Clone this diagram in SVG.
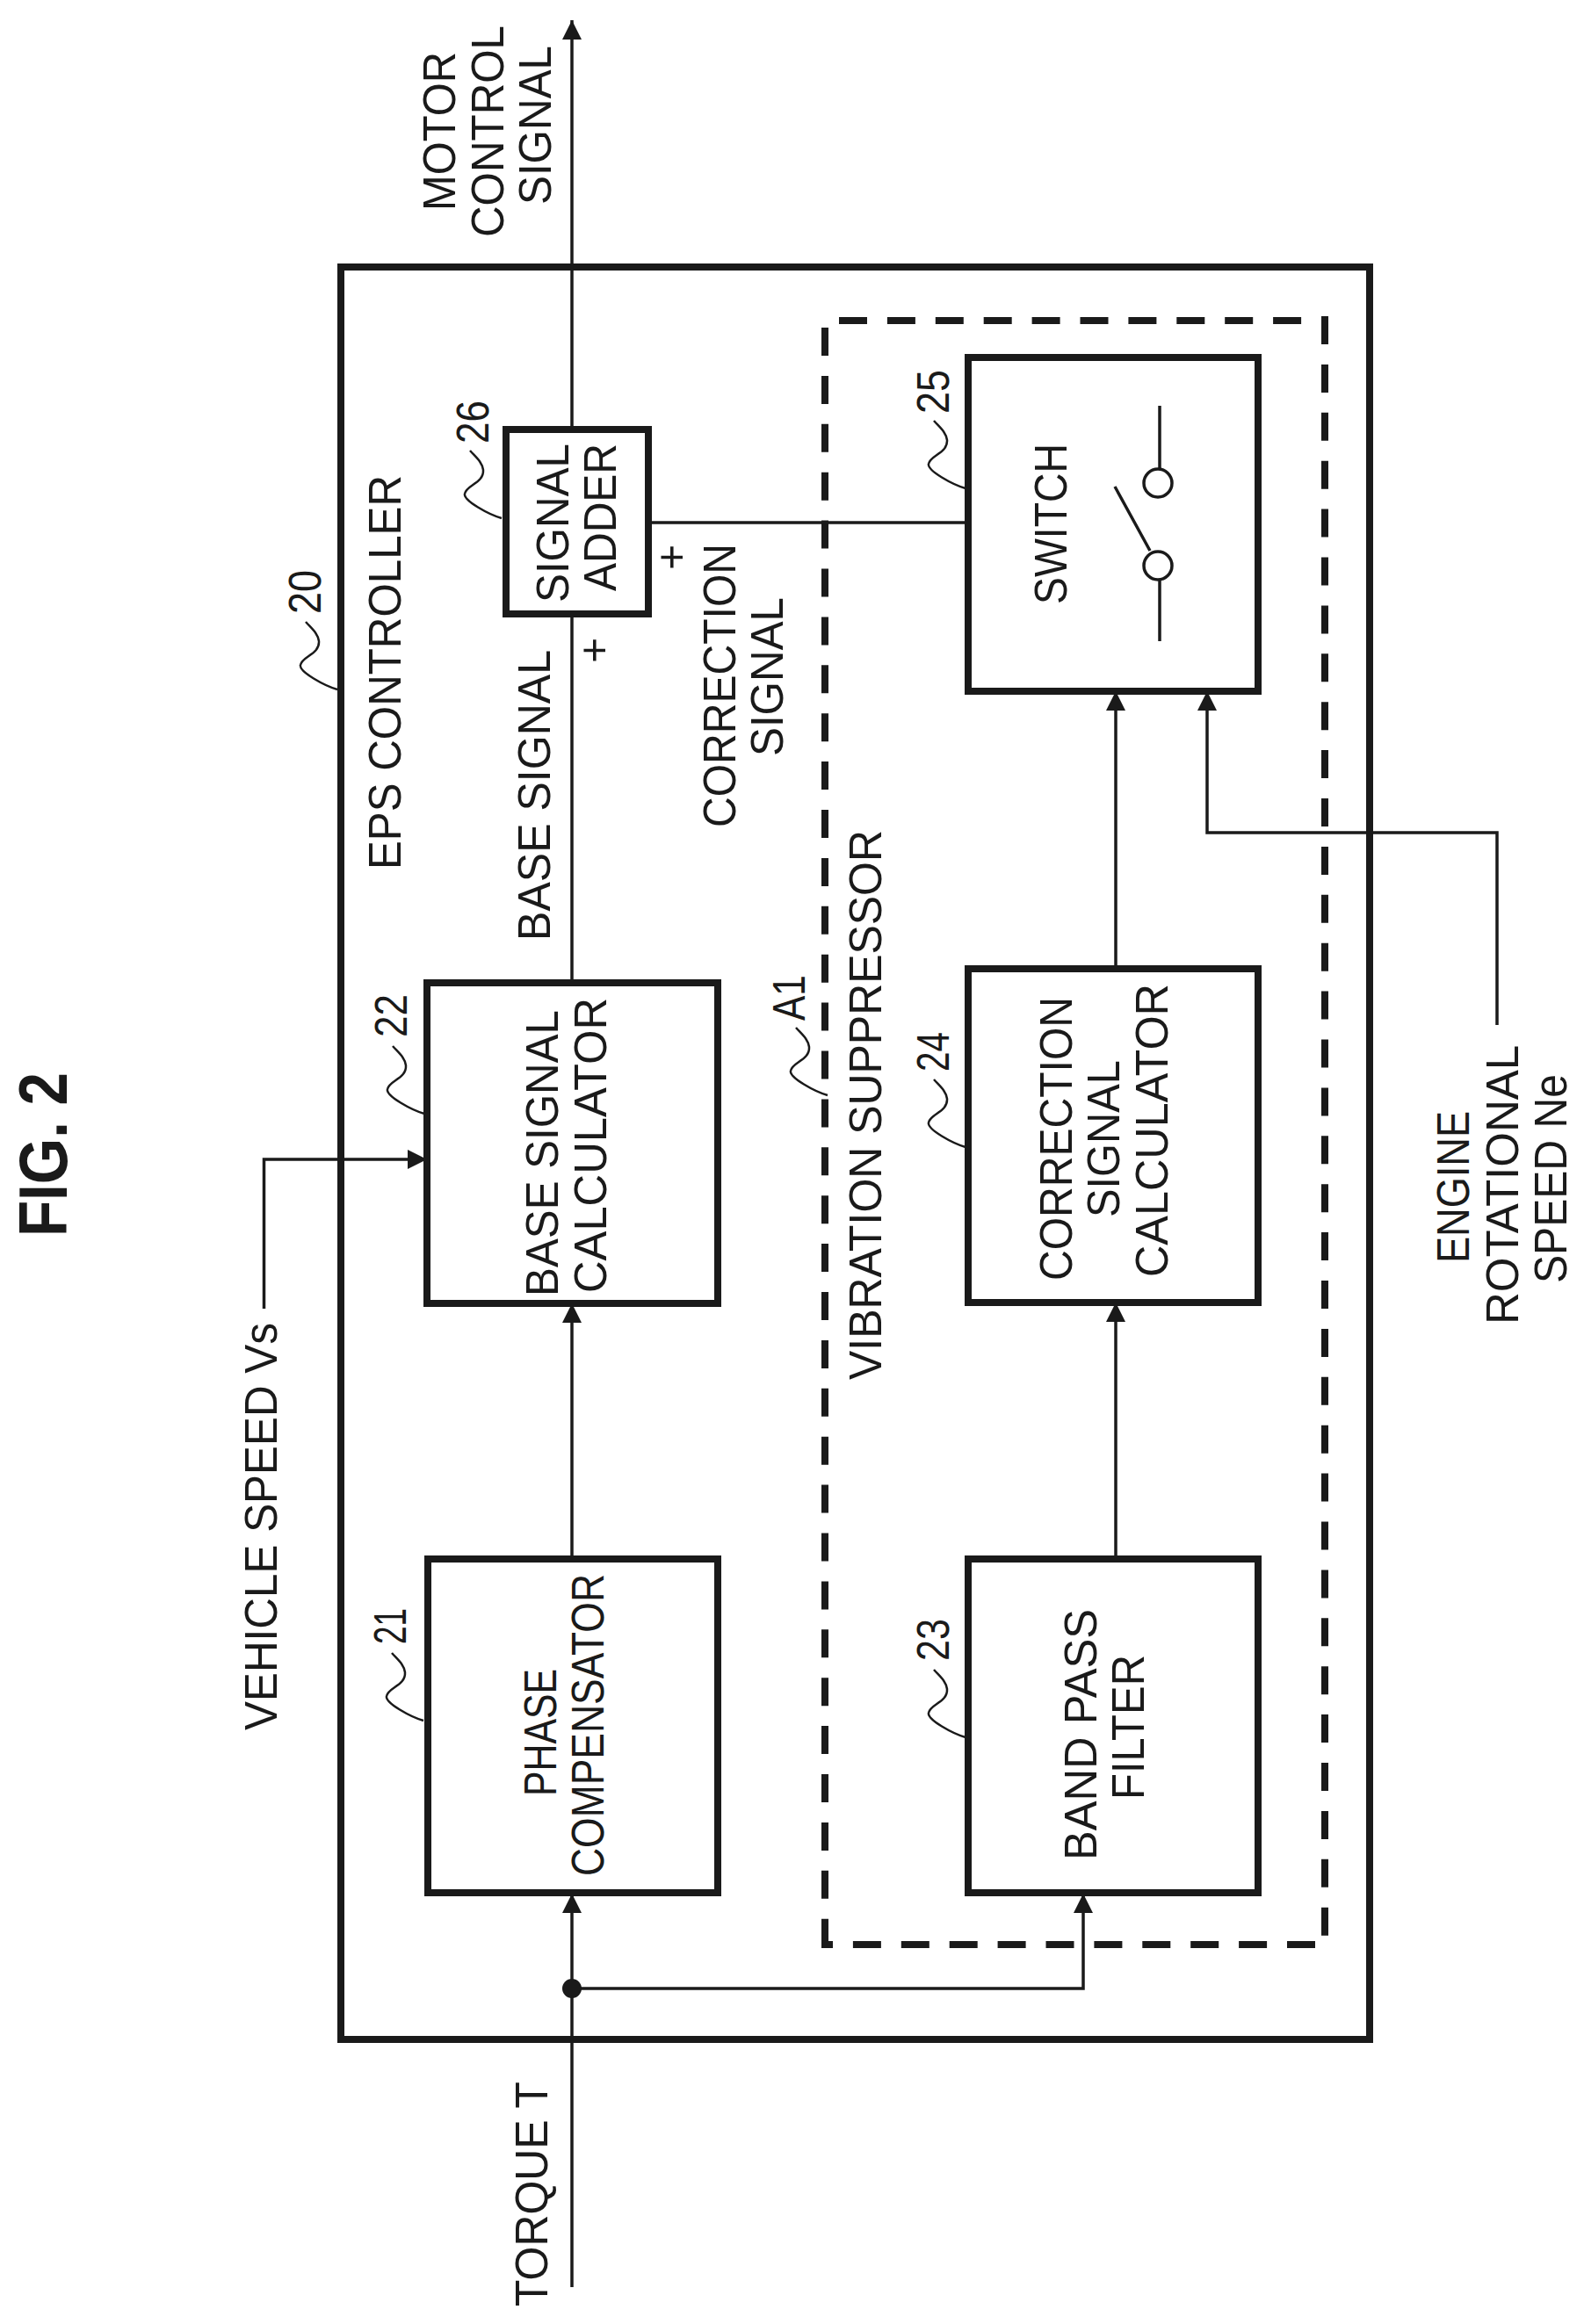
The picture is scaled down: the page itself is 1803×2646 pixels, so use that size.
<svg xmlns="http://www.w3.org/2000/svg" xmlns:xlink="http://www.w3.org/1999/xlink" width="1803" height="2646" viewBox="0 0 1803 2646">
<style>
text{font-family:"Liberation Sans",Arial,sans-serif;font-size:51px;fill:#1a1a1a}
.b{fill:none;stroke:#1a1a1a;stroke-width:8}
.n{fill:#fff;stroke:#1a1a1a;stroke-width:8}
.w{fill:none;stroke:#1a1a1a;stroke-width:3.5}
.d{fill:none;stroke:#1a1a1a;stroke-width:8;stroke-dasharray:32 22.9}
.l{fill:none;stroke:#1a1a1a;stroke-width:2.5}
</style>
<defs>
<marker id="arrow" viewBox="0 0 22 22" refX="22" refY="11" markerWidth="22" markerHeight="22" markerUnits="userSpaceOnUse" orient="auto"><path d="M0,0L22,11L0,22Z" fill="#1a1a1a"/></marker>
<path id="leader" class="l" d="M0,0C-14,-4 -44,-20 -42,-28C-40,-38 -20,-40 -21,-55C-22,-64 -30,-70 -36,-77"/>
</defs>
<rect width="1803" height="2646" fill="#fff"/>
<text id="title" transform="translate(76,1408) rotate(-90)" textLength="187" lengthAdjust="spacingAndGlyphs" style="font-size:77px;font-weight:bold">FIG. 2</text>
<g id="n20-eps-controller">
<rect class="b" x="388" y="304" width="1171" height="2018"/>
<text transform="translate(456,990) rotate(-90)" textLength="449" lengthAdjust="spacingAndGlyphs">EPS CONTROLLER</text>
<use xlink:href="#leader" href="#leader" x="384" y="785"/>
<text transform="translate(365,699) rotate(-90)" textLength="50" lengthAdjust="spacingAndGlyphs">20</text>
</g>
<g id="a1-vibration-suppressor">
<line class="d" x1="955" y1="365" x2="1508" y2="365"/>
<line class="d" x1="1508" y1="360" x2="1508" y2="2214"/>
<line class="d" x1="1497" y1="2214" x2="935" y2="2214"/>
<line class="d" x1="939" y1="373" x2="939" y2="2218"/>
<text transform="translate(1003,1571) rotate(-90)" textLength="626" lengthAdjust="spacingAndGlyphs">VIBRATION SUPPRESSOR</text>
<use xlink:href="#leader" href="#leader" x="942" y="1247"/>
<text transform="translate(916,1162) rotate(-90)" textLength="52" lengthAdjust="spacingAndGlyphs">A1</text>
</g>
<g id="connectors">
<path class="w" d="M651,699V23" marker-end="url(#arrow)"/>
<path class="w" d="M651,1119V699"/>
<path class="w" d="M651,1775V1484" marker-end="url(#arrow)"/>
<path class="w" d="M651,2604V2156" marker-end="url(#arrow)"/>
<path class="w" d="M651,2264H1233V2156" marker-end="url(#arrow)"/>
<path class="w" d="M300.500,1490V1320H486" marker-end="url(#arrow)"/>
<path class="w" d="M1270,1775V1483" marker-end="url(#arrow)"/>
<path class="w" d="M1270,1103V787" marker-end="url(#arrow)"/>
<path class="w" d="M1704,1167V948H1374V787" marker-end="url(#arrow)"/>
<path class="w" d="M738,595H1102"/>
<circle cx="651" cy="2264" r="11" fill="#1a1a1a"/>
</g>
<g id="n21-phase-compensator">
<rect class="n" x="487" y="1775" width="330" height="380"/>
<text transform="translate(633,2045) rotate(-90)" textLength="145" lengthAdjust="spacingAndGlyphs">PHASE</text>
<text transform="translate(687,2136) rotate(-90)" textLength="344" lengthAdjust="spacingAndGlyphs">COMPENSATOR</text>
<use xlink:href="#leader" href="#leader" x="482" y="1959"/>
<text transform="translate(462,1872) rotate(-90)" textLength="41" lengthAdjust="spacingAndGlyphs">21</text>
</g>
<g id="n22-base-signal-calculator">
<rect class="n" x="486" y="1119" width="331" height="365"/>
<text transform="translate(635,1476) rotate(-90)" textLength="326" lengthAdjust="spacingAndGlyphs">BASE SIGNAL</text>
<text transform="translate(690,1472) rotate(-90)" textLength="336" lengthAdjust="spacingAndGlyphs">CALCULATOR</text>
<use xlink:href="#leader" href="#leader" x="483" y="1268"/>
<text transform="translate(463,1181) rotate(-90)" textLength="49" lengthAdjust="spacingAndGlyphs">22</text>
</g>
<g id="n23-band-pass-filter">
<rect class="n" x="1102" y="1775" width="330" height="380"/>
<text transform="translate(1248,2118) rotate(-90)" textLength="286" lengthAdjust="spacingAndGlyphs">BAND PASS</text>
<text transform="translate(1302,2049) rotate(-90)" textLength="165" lengthAdjust="spacingAndGlyphs">FILTER</text>
<use xlink:href="#leader" href="#leader" x="1099" y="1978"/>
<text transform="translate(1080,1891) rotate(-90)" textLength="48" lengthAdjust="spacingAndGlyphs">23</text>
</g>
<g id="n24-correction-signal-calculator">
<rect class="n" x="1102" y="1103" width="330" height="380"/>
<text transform="translate(1220,1458) rotate(-90)" textLength="323" lengthAdjust="spacingAndGlyphs">CORRECTION</text>
<text transform="translate(1274,1386) rotate(-90)" textLength="179" lengthAdjust="spacingAndGlyphs">SIGNAL</text>
<text transform="translate(1329,1454) rotate(-90)" textLength="334" lengthAdjust="spacingAndGlyphs">CALCULATOR</text>
<use xlink:href="#leader" href="#leader" x="1099" y="1306"/>
<text transform="translate(1080,1220) rotate(-90)" textLength="45" lengthAdjust="spacingAndGlyphs">24</text>
</g>
<g id="n25-switch">
<rect class="n" x="1102" y="407" width="330" height="380"/>
<text transform="translate(1214,688) rotate(-90)" textLength="183" lengthAdjust="spacingAndGlyphs">SWITCH</text>
<path class="w" d="M1320,462V534M1320,660V730M1309,627L1269,554"/>
<circle class="w" cx="1318" cy="550" r="16"/>
<circle class="w" cx="1318" cy="644" r="16"/>
<use xlink:href="#leader" href="#leader" x="1099" y="556"/>
<text transform="translate(1080,471) rotate(-90)" textLength="50" lengthAdjust="spacingAndGlyphs">25</text>
</g>
<g id="n26-signal-adder">
<rect class="n" x="576" y="489" width="162" height="210"/>
<text transform="translate(647,686) rotate(-90)" textLength="181" lengthAdjust="spacingAndGlyphs">SIGNAL</text>
<text transform="translate(701,673) rotate(-90)" textLength="168" lengthAdjust="spacingAndGlyphs">ADDER</text>
<use xlink:href="#leader" href="#leader" x="571" y="590"/>
<text transform="translate(556,505) rotate(-90)" textLength="49" lengthAdjust="spacingAndGlyphs">26</text>
</g>
<g id="labels">
<text transform="translate(518,240) rotate(-90)" textLength="181" lengthAdjust="spacingAndGlyphs">MOTOR</text>
<text transform="translate(573,270) rotate(-90)" textLength="241" lengthAdjust="spacingAndGlyphs">CONTROL</text>
<text transform="translate(627,233) rotate(-90)" textLength="181" lengthAdjust="spacingAndGlyphs">SIGNAL</text>
<text transform="translate(626,1071) rotate(-90)" textLength="331" lengthAdjust="spacingAndGlyphs">BASE SIGNAL</text>
<text transform="translate(837,942) rotate(-90)" textLength="323" lengthAdjust="spacingAndGlyphs">CORRECTION</text>
<text transform="translate(891,861) rotate(-90)" textLength="181" lengthAdjust="spacingAndGlyphs">SIGNAL</text>
<text transform="translate(693,755) rotate(-90)" style="font-size:50px">+</text>
<text transform="translate(781,649) rotate(-90)" style="font-size:50px">+</text>
<text transform="translate(315,1970) rotate(-90)" textLength="464" lengthAdjust="spacingAndGlyphs">VEHICLE SPEED Vs</text>
<text transform="translate(623,2626) rotate(-90)" textLength="256" lengthAdjust="spacingAndGlyphs">TORQUE T</text>
<text transform="translate(1672,1438) rotate(-90)" textLength="173" lengthAdjust="spacingAndGlyphs">ENGINE</text>
<text transform="translate(1728,1508) rotate(-90)" textLength="318" lengthAdjust="spacingAndGlyphs">ROTATIONAL</text>
<text transform="translate(1783,1461) rotate(-90)" textLength="238" lengthAdjust="spacingAndGlyphs">SPEED Ne</text>
</g>
</svg>
